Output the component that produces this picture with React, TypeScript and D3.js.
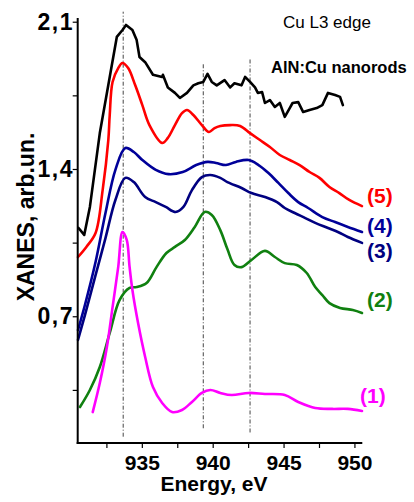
import React from "react";
import * as d3 from "d3";

// spectra: [energy eV, XANES arb.un.]
const sample: [number, number][] = [
  [930.5, 1.122], [930.9, 1.089], [931.3, 1.222], [932.0, 1.573], [932.7, 1.84],
  [933.2, 2.03], [933.6, 2.063], [933.85, 2.087], [934.3, 2.063], [934.6, 2.015],
  [934.8, 1.935], [935.2, 1.91], [935.75, 1.85], [936.4, 1.84], [936.45, 1.85],
  [936.8, 1.79], [937.3, 1.764], [937.65, 1.74], [938.15, 1.764], [938.6, 1.8],
  [938.95, 1.81], [939.3, 1.816], [939.6, 1.854], [939.9, 1.816], [940.25, 1.8],
  [940.8, 1.825], [941.2, 1.79], [941.5, 1.81], [942.0, 1.8], [942.25, 1.84],
  [942.6, 1.816], [942.95, 1.79], [943.15, 1.764], [943.45, 1.768], [943.65, 1.716],
  [944.0, 1.73], [944.35, 1.697], [944.7, 1.716], [945.05, 1.65], [945.4, 1.692],
  [945.6, 1.716], [946.0, 1.72], [946.35, 1.673], [946.8, 1.683], [947.3, 1.692],
  [947.7, 1.706], [948.1, 1.764], [948.6, 1.754], [948.95, 1.745], [949.15, 1.706],
];

const curve5: [number, number][] = [
  [930.46, 0.984], [931.05, 1.032], [931.7, 1.098], [932.2, 1.302], [932.6, 1.54],
  [932.7, 1.659], [932.9, 1.816], [933.3, 1.882], [933.6, 1.906], [934.0, 1.882],
  [934.5, 1.8], [935.0, 1.706], [935.5, 1.611], [936.4, 1.526], [936.8, 1.55],
  [937.3, 1.611], [937.8, 1.668], [938.15, 1.683], [938.6, 1.659], [939.2, 1.611],
  [939.7, 1.578], [940.1, 1.597], [940.5, 1.607], [941.2, 1.611], [941.9, 1.607],
  [942.6, 1.573], [943.3, 1.54], [944.0, 1.507], [944.7, 1.469], [945.4, 1.445],
  [946.1, 1.421], [946.8, 1.388], [947.5, 1.36], [948.2, 1.317], [948.9, 1.288],
  [949.6, 1.255], [950.5, 1.226],
];

const curve4: [number, number][] = [
  [930.46, 0.637], [930.95, 0.756], [931.7, 0.96], [932.4, 1.193], [933.1, 1.398],
  [933.8, 1.502], [934.4, 1.483], [935.0, 1.445], [935.95, 1.398], [936.85, 1.378],
  [937.85, 1.388], [938.8, 1.421], [939.6, 1.436], [940.2, 1.431], [940.9, 1.421],
  [941.6, 1.436], [942.5, 1.445], [943.2, 1.421], [943.9, 1.383], [944.6, 1.336],
  [945.3, 1.288], [946.0, 1.245], [946.7, 1.217], [947.7, 1.174], [948.6, 1.15],
  [949.5, 1.127], [950.5, 1.103],
];

const curve3: [number, number][] = [
  [930.46, 0.59], [930.95, 0.708], [931.7, 0.898], [932.4, 1.074], [933.1, 1.255],
  [933.8, 1.36], [934.4, 1.34], [935.2, 1.269], [935.95, 1.245], [936.65, 1.222],
  [937.35, 1.198], [937.9, 1.222], [938.5, 1.302], [939.2, 1.364], [939.8, 1.374],
  [940.5, 1.36], [941.0, 1.34], [942.0, 1.312], [942.7, 1.288], [943.65, 1.269],
  [944.5, 1.245], [945.05, 1.217], [945.75, 1.193], [946.5, 1.169], [947.2, 1.146],
  [948.1, 1.122], [948.8, 1.103], [949.5, 1.079], [950.5, 1.051],
];

const curve2: [number, number][] = [
  [930.6, 0.271], [931.3, 0.352], [932.0, 0.461], [932.7, 0.623], [933.4, 0.78],
  [934.1, 0.837], [934.6, 0.841], [935.3, 0.86], [936.0, 0.936], [936.7, 1.003],
  [937.3, 1.032], [938.0, 1.065], [938.7, 1.127], [939.4, 1.198], [939.9, 1.184],
  [940.5, 1.112], [941.0, 1.022], [941.5, 0.946], [942.0, 0.936], [942.7, 0.97],
  [943.65, 1.013], [944.35, 0.984], [945.05, 0.955], [945.9, 0.946], [946.6, 0.908],
  [947.2, 0.841], [947.7, 0.803], [948.2, 0.765], [948.95, 0.742], [949.85, 0.732],
  [950.5, 0.718],
];

const curve1: [number, number][] = [
  [931.5, 0.247], [932.0, 0.385], [932.5, 0.556], [932.9, 0.746], [933.3, 0.937],
  [933.6, 1.103], [933.9, 1.065], [934.1, 0.937], [934.3, 0.827], [934.7, 0.67],
  [935.2, 0.509], [935.75, 0.366], [936.4, 0.29], [937.1, 0.247], [937.8, 0.257],
  [938.5, 0.295], [939.2, 0.338], [939.8, 0.352], [940.5, 0.338], [941.3, 0.328],
  [942.5, 0.338], [943.65, 0.333], [945.05, 0.328], [946.0, 0.295], [947.2, 0.266],
  [948.4, 0.262], [949.5, 0.262], [950.5, 0.252],
];

// vertical marker lines: energy, bottom value, top value
const markers: [number, number, number][] = [
  [933.65, 0.13, 2.15],
  [939.3, 0.17, 1.9],
  [942.6, 0.15, 1.93],
];

const yMajor = [0.7, 1.4, 2.1];
const yMinor = [0.35, 1.05, 1.75];
const xMajor = [935, 940, 945, 950];
const xMinor = [932.5, 937.5, 942.5, 947.5];

const series = [
  { name: "sample", data: sample, color: "#000000", label: "", smooth: false },
  { name: "5", data: curve5, color: "#ff0000", label: "(5)", smooth: true },
  { name: "4", data: curve4, color: "#000099", label: "(4)", smooth: true },
  { name: "3", data: curve3, color: "#000080", label: "(3)", smooth: true },
  { name: "2", data: curve2, color: "#108010", label: "(2)", smooth: true },
  { name: "1", data: curve1, color: "#ff00ff", label: "(1)", smooth: true },
];

// label baselines in data units (y), drawn to the right of the curves
const labelY: Record<string, number> = { "5": 1.243, "4": 1.096, "3": 0.979, "2": 0.746, "1": 0.292 };

const W = 414;
const H = 502;
const font = "'Liberation Sans', Arial, sans-serif";

export default function App() {
  const x = d3.scaleLinear().domain([930.44, 950.52]).range([77.7, 362.3]);
  const y = d3.scaleLinear().domain([0.1, 2.12]).range([443, 18]);

  const smoothLine = d3
    .line<[number, number]>()
    .x((d) => x(d[0]))
    .y((d) => y(d[1]))
    .curve(d3.curveCatmullRom.alpha(0.5));
  const roughLine = d3
    .line<[number, number]>()
    .x((d) => x(d[0]))
    .y((d) => y(d[1]));

  const [x0, x1] = x.range();
  const [yb, yt] = y.range();

  return (
    <svg width={W} height={H} style={{ position: "absolute", left: 0, top: 0, background: "#fff" }}>
      {/* marker lines */}
      {markers.map(([e, lo, hi]) => (
        <line
          key={e}
          x1={x(e)}
          x2={x(e)}
          y1={y(lo)}
          y2={y(hi)}
          stroke="#444"
          strokeWidth={1}
          strokeDasharray="4,2,1,2"
        />
      ))}

      {/* curves */}
      {series.map((s) => (
        <path
          key={s.name}
          d={(s.smooth ? smoothLine : roughLine)(s.data) || ""}
          fill="none"
          stroke={s.color}
          strokeWidth={2.6}
          strokeLinejoin="round"
          strokeLinecap="round"
        />
      ))}

      {/* axes */}
      <line x1={x0} x2={x0} y1={yb + 1} y2={yt} stroke="#000" strokeWidth={2} />
      <line x1={x0 - 1} x2={x1} y1={yb} y2={yb} stroke="#000" strokeWidth={2} />
      {[...yMajor, ...yMinor].map((v) => (
        <line key={"yt" + v} x1={x0 - 5} x2={x0} y1={y(v)} y2={y(v)} stroke="#000" strokeWidth={1.2} />
      ))}
      {[...xMajor, ...xMinor].map((v) => (
        <line key={"xt" + v} x1={x(v)} x2={x(v)} y1={yb} y2={yb + 5} stroke="#000" strokeWidth={1.2} />
      ))}
      {yMajor.map((v) => (
        <text
          key={"yl" + v}
          x={74}
          y={y(v) + 7.5}
          textAnchor="end"
          fontFamily={font}
          fontWeight="bold"
          fontSize={23}
          letterSpacing={1.5}
        >
          {d3.format(".1f")(v).replace(".", ",")}
        </text>
      ))}
      {xMajor.map((v) => (
        <text
          key={"xl" + v}
          x={x(v)}
          y={470}
          textAnchor="middle"
          fontFamily={font}
          fontWeight="bold"
          fontSize={21}
        >
          {v}
        </text>
      ))}

      {/* axis titles */}
      <text
        transform="translate(34,217) rotate(-90)"
        textAnchor="middle"
        fontFamily={font}
        fontWeight="bold"
        fontSize={23}
      >
        XANES, arb.un.
      </text>
      <text x={214} y={491} textAnchor="middle" fontFamily={font} fontWeight="bold" fontSize={21}>
        Energy, eV
      </text>

      {/* annotations */}
      <text x={283} y={28} fontFamily={font} fontSize={17}>
        Cu L3 edge
      </text>
      <text x={271} y={73} fontFamily={font} fontWeight="bold" fontSize={16.5}>
        AlN:Cu nanorods
      </text>

      {series
        .filter((s) => s.label)
        .map((s) => (
          <text
            key={"lab" + s.name}
            x={s.name === "1" ? 360 : 367}
            y={y(labelY[s.name])}
            fontFamily={font}
            fontWeight="bold"
            fontSize={21}
            fill={s.color}
          >
            {s.label}
          </text>
        ))}
    </svg>
  );
}
